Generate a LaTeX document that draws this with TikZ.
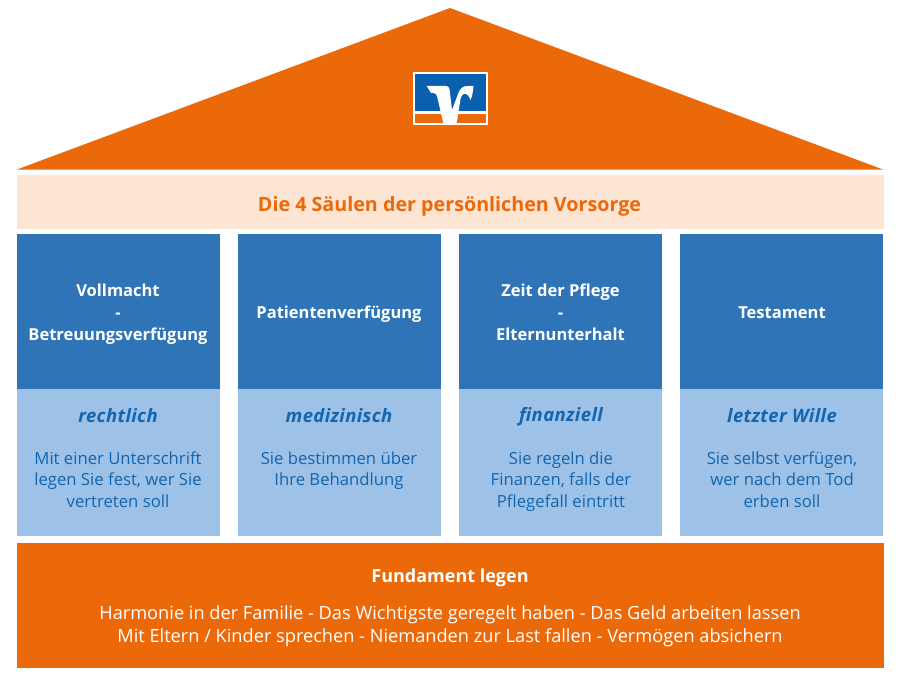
\documentclass[tikz,border=0pt]{standalone}
\usepackage{fontspec}
\setmainfont{Open Sans}
\newcommand{\sbfont}{\bfseries}
\newcommand{\lnstrut}{\vrule height 12pt depth 4pt width 0pt\relax}
\definecolor{vrorange}{HTML}{EC690A}
\definecolor{vrpale}{HTML}{FDE5D3}
\definecolor{vrblue}{HTML}{2F74B7}
\definecolor{vrlight}{HTML}{9DC1E7}
\definecolor{vrtext}{HTML}{1265B0}
\definecolor{vrlogo}{HTML}{0A60AE}
\tikzset{
  x=1pt,y=-1pt,
  boxbase/.style={inner sep=0pt,outer sep=0pt,minimum width=203pt,anchor=north west},
  headbox/.style={boxbase,fill=vrblue,minimum height=155pt},
  lightbox/.style={boxbase,fill=vrlight,minimum height=147pt},
  txtbase/.style={inner sep=0pt,align=center},
  headtxt/.style={txtbase,text=white,font=\fontsize{16.5}{21.6}\selectfont\sbfont},
  kindtxt/.style={txtbase,text=vrtext,font=\fontsize{18.5}{21}\selectfont\sbfont\itshape\addfontfeature{LetterSpace=2}},
  bodytxt/.style={txtbase,text=vrtext,font=\fontsize{16.7}{21.6}\selectfont},
  foottxt/.style={txtbase,text=white,font=\fontsize{18.2}{23.6}\selectfont},
  foothead/.style={txtbase,text=white,font=\fontsize{18}{23}\selectfont\sbfont},
  bannertext/.style={txtbase,text=vrorange,font=\fontsize{19.7}{24}\selectfont\sbfont},
}
\begin{document}
\begin{tikzpicture}
\useasboundingbox (0,0) rectangle (900,685);
\fill[white] (0,0) rectangle (900,685);
\fill[vrorange] (450,8) -- (883,169.5) -- (17,169.5) -- cycle;
% logo
\fill[white] (412.5,72.5) rectangle (487.5,125);
\fill[vrlogo] (414.5,74.5) rectangle (485.5,111);
\fill[vrorange] (414.5,114) rectangle (485.5,123);
\fill[white] (426.7,86) -- (446,86) .. controls (448,86) and (449,87) .. (449.5,89) -- (452,110)
  -- (458,94) .. controls (460,88) and (463,86) .. (468,86) -- (473.5,86)
  .. controls (473,91) and (472.5,96) .. (470.5,100) .. controls (469,96) and (467,93) .. (463.5,94)
  .. controls (462,95) and (461,97) .. (460.5,99) -- (456.5,124) -- (443.5,124) -- (437,96)
  .. controls (436.5,94) and (435,93) .. (433,93) -- (431,93) -- cycle;
% banner
\node[fill=vrpale,inner sep=0pt,outer sep=0pt,anchor=north west,minimum width=867pt,minimum height=53.5pt] (banner) at (16.5,175) {};
\node[bannertext] (bannertxt) at (449.5,206) {\lnstrut Die 4 Säulen der persönlichen Vorsorge};
% pillars
\node[headbox] (h1) at (16.5,234) {};
\node[headbox] (h2) at (237.5,234) {};
\node[headbox] (h3) at (459,234) {};
\node[headbox] (h4) at (680,234) {};
\node[lightbox] (l1) at (16.5,389) {};
\node[lightbox] (l2) at (237.5,389) {};
\node[lightbox] (l3) at (459,389) {};
\node[lightbox] (l4) at (680,389) {};
\node[headtxt] (t1) at (118,314.2) {\lnstrut Vollmacht\\\lnstrut -\\\lnstrut Betreuungsverfügung};
\node[headtxt] (t2) at (339,314.2) {\lnstrut Patientenverfügung};
\node[headtxt] (t3) at (560.5,314.2) {\lnstrut Zeit der Pflege\\\lnstrut -\\\lnstrut Elternunterhalt};
\node[headtxt] (t4) at (782,314.2) {\lnstrut Testament};
\node[kindtxt] (k1) at (118,417) {\lnstrut rechtlich};
\node[kindtxt] (k2) at (339,417) {\lnstrut medizinisch};
\node[kindtxt] (k3) at (561,417) {\lnstrut finanziell};
\node[kindtxt] (k4) at (782,417) {\lnstrut letzter Wille};
\node[bodytxt] (b1) at (118,481.5) {\lnstrut Mit einer Unterschrift\\\lnstrut legen Sie fest, wer Sie\\\lnstrut vertreten soll};
\node[bodytxt] (b2) at (339,470.8) {\lnstrut Sie bestimmen über\\\lnstrut Ihre Behandlung};
\node[bodytxt] (b3) at (561,481.5) {\lnstrut Sie regeln die\\\lnstrut Finanzen, falls der\\\lnstrut Pflegefall eintritt};
\node[bodytxt] (b4) at (782,481.5) {\lnstrut Sie selbst verfügen,\\\lnstrut wer nach dem Tod\\\lnstrut erben soll};
% foundation
\node[fill=vrorange,inner sep=0pt,outer sep=0pt,anchor=north west,minimum width=867pt,minimum height=125pt] (found) at (16.5,543) {};
\node[foothead] (f1) at (450,577.7) {\lnstrut Fundament legen};
\node[foottxt] (f2) at (450,626.1) {\lnstrut Harmonie in der Familie - Das Wichtigste geregelt haben - Das Geld arbeiten lassen\\\lnstrut Mit Eltern / Kinder sprechen - Niemanden zur Last fallen - Vermögen absichern};
\end{tikzpicture}
\end{document}
